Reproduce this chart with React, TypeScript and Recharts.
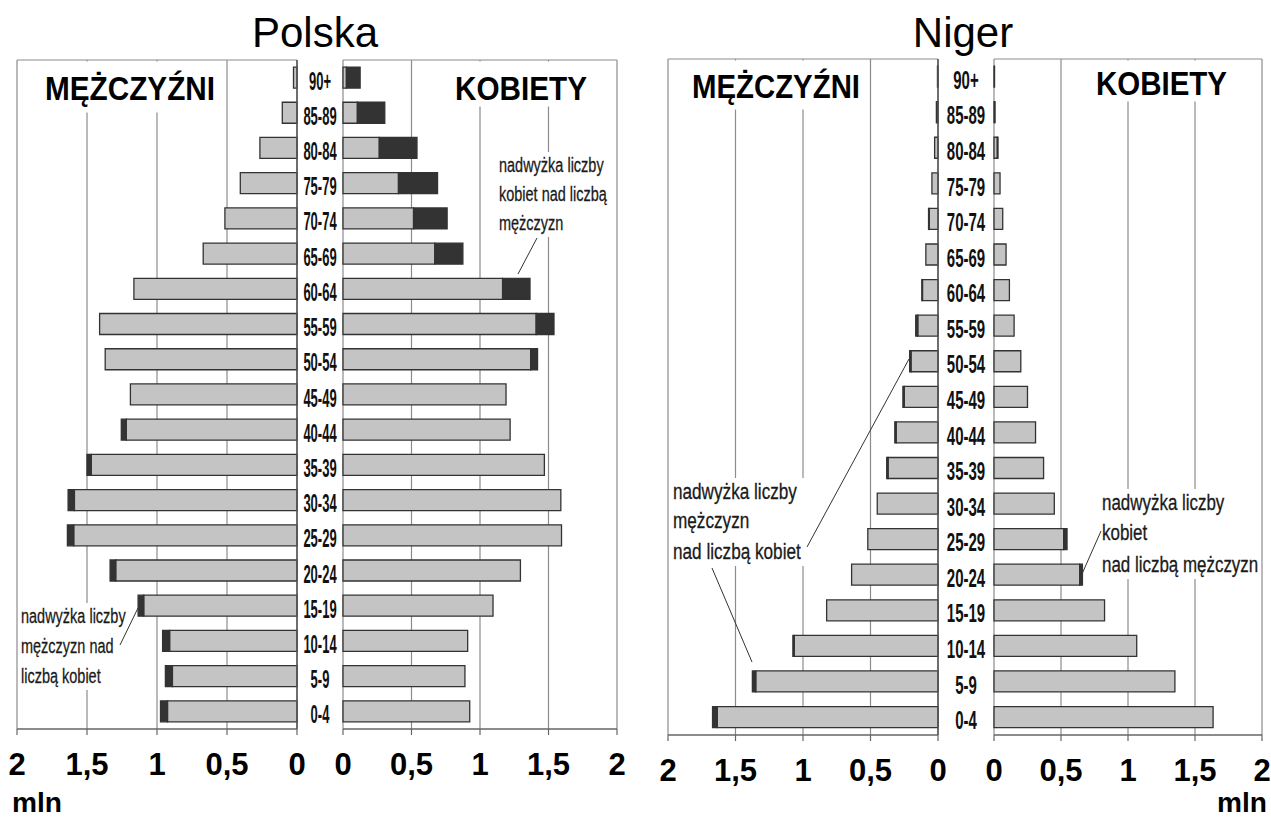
import React from 'react'
import { BarChart, Bar, XAxis, YAxis, CartesianGrid } from 'recharts'

// age groups, youngest first (axis is reversed so 90+ ends on top)
const ages = [
  '0-4', '5-9', '10-14', '15-19', '20-24', '25-29', '30-34', '35-39', '40-44', '45-49',
  '50-54', '55-59', '60-64', '65-69', '70-74', '75-79', '80-84', '85-89', '90+',
]

// population in millions
const polskaMen = [
  0.975, 0.94, 0.96, 1.135, 1.335, 1.64, 1.635, 1.5, 1.255, 1.19,
  1.37, 1.41, 1.165, 0.67, 0.515, 0.405, 0.265, 0.105, 0.025,
]
const polskaWomen = [
  0.925, 0.89, 0.91, 1.095, 1.295, 1.595, 1.59, 1.47, 1.22, 1.19,
  1.42, 1.54, 1.365, 0.875, 0.76, 0.69, 0.54, 0.305, 0.125,
]
const nigerMen = [
  1.67, 1.375, 1.075, 0.825, 0.64, 0.52, 0.45, 0.38, 0.32, 0.26,
  0.21, 0.165, 0.12, 0.09, 0.07, 0.045, 0.025, 0.012, 0.004,
]
const nigerWomen = [
  1.635, 1.35, 1.065, 0.825, 0.66, 0.545, 0.45, 0.37, 0.31, 0.25,
  0.2, 0.15, 0.115, 0.09, 0.065, 0.045, 0.03, 0.008, 0.004,
]

const xTicks = [0, 0.5, 1, 1.5, 2]

const FONT = "'Liberation Sans', Arial, sans-serif"
const LIGHT = '#c4c4c4'
const DARK = '#333333'
const GRID = '#8c8c8c'

type Row = { age: string; base: number; extra: number }

function buildRows(own: number[], other: number[]): Row[] {
  return ages.map((age, i) => ({
    age,
    base: Math.min(own[i], other[i]),
    extra: Math.max(own[i] - other[i], 0),
  }))
}

const XTick = (props: any) => {
  const { x, y, payload } = props
  return (
    <text x={x} y={y + 40} textAnchor="middle" fontFamily={FONT} fontWeight="bold" fontSize={31} fill="#000">
      {String(payload.value).replace('.', ',')}
    </text>
  )
}

const makeAgeTick = (colWidth: number, sx: number) => (props: any) => {
  const { x, y, payload } = props
  return (
    <text
      transform={`translate(${x + colWidth / 2},${y + 12}) scale(${sx},1)`}
      textAnchor="middle"
      fontFamily={FONT}
      fontWeight="bold"
      fontSize={25}
      fill="#111"
    >
      {payload.value}
    </text>
  )
}

interface PanelProps {
  rows: Row[]
  side: 'men' | 'women'
  left: number
  plotLeft: number
  plotRight: number
  top: number
  bottom: number
  colWidth?: number
  labelScale?: number
  padRight?: number
}

function Panel({ rows, side, left, plotLeft, plotRight, top, bottom, colWidth = 0, labelScale = 0.55, padRight = 0 }: PanelProps) {
  const men = side === 'men'
  const marginLeft = plotLeft - left
  const width = plotRight - left + (men ? colWidth : padRight)
  return (
    <div style={{ position: 'absolute', left, top: 0 }}>
      <BarChart
        layout="vertical"
        width={width}
        height={819}
        data={rows}
        margin={{ top, left: marginLeft, right: men ? 0 : padRight, bottom: 0 }}
        barCategoryGap="20%"
      >
        <CartesianGrid stroke={GRID} strokeWidth={1.2} horizontalPoints={[top]} />
        <XAxis
          type="number"
          domain={[0, 2]}
          ticks={xTicks}
          reversed={men}
          height={819 - bottom}
          tickSize={6}
          tickMargin={0}
          interval={0}
          axisLine={{ stroke: '#666', strokeWidth: 1.5 }}
          tickLine={{ stroke: '#666', strokeWidth: 1.2 }}
          tick={XTick}
        />
        {men ? (
          <YAxis
            type="category"
            dataKey="age"
            orientation="right"
            reversed
            width={colWidth}
            tickSize={0}
            tickMargin={0}
            interval={0}
            tickLine={false}
            axisLine={{ stroke: '#555', strokeWidth: 1.5 }}
            tick={makeAgeTick(colWidth, labelScale)}
          />
        ) : (
          <YAxis
            type="category"
            dataKey="age"
            reversed
            width={0}
            tick={false}
            tickLine={false}
            axisLine={{ stroke: '#555', strokeWidth: 1.5 }}
          />
        )}
        <Bar dataKey="base" stackId="s" fill={LIGHT} stroke={DARK} strokeWidth={1.3} isAnimationActive={false} />
        <Bar dataKey="extra" stackId="s" fill={DARK} stroke={DARK} strokeWidth={1.3} isAnimationActive={false} />
      </BarChart>
    </div>
  )
}

type Line = [string, number]

// annotation text, squeezed horizontally like the condensed font in the original
function Note({ x, lines, size, sx, box }: { x: number; lines: Line[]; size: number; sx: number; box: [number, number, number, number] }) {
  return (
    <g>
      <rect x={box[0]} y={box[1]} width={box[2]} height={box[3]} fill="#fff" />
      {lines.map(([t, y]) => (
        <text
          key={t}
          transform={`translate(${x},${y}) scale(${sx},1)`}
          fontFamily={FONT}
          fontSize={size}
          fill="#1a1a1a"
          stroke="#1a1a1a"
          strokeWidth={0.3}
        >
          {t}
        </text>
      ))}
    </g>
  )
}

function Heading({ x, y, w, text }: { x: number; y: number; w: number; text: string }) {
  return (
    <text x={x} y={y} fontFamily={FONT} fontWeight="bold" fontSize={34} fill="#000" textLength={w} lengthAdjust="spacingAndGlyphs">
      {text}
    </text>
  )
}

export default function App() {
  return (
    <div style={{ position: 'absolute', left: 0, top: 0, width: 1271, height: 819, background: '#fff', overflow: 'hidden' }}>
      <Panel rows={buildRows(polskaMen, polskaWomen)} side="men" left={0} plotLeft={17} plotRight={297} top={60} bottom={729} colWidth={46} labelScale={0.52} />
      <Panel rows={buildRows(polskaWomen, polskaMen)} side="women" left={323} plotLeft={343} plotRight={617} top={60} bottom={729} padRight={20} />
      <Panel rows={buildRows(nigerMen, nigerWomen)} side="men" left={630} plotLeft={668} plotRight={938} top={59} bottom={735} colWidth={56} labelScale={0.6} />
      <Panel rows={buildRows(nigerWomen, nigerMen)} side="women" left={974} plotLeft={994} plotRight={1262} top={59} bottom={735} padRight={9} />

      <svg width={1271} height={819} style={{ position: 'absolute', left: 0, top: 0, pointerEvents: 'none' }}>
        <text x={315} y={47} textAnchor="middle" fontFamily={FONT} fontSize={42} fill="#000">Polska</text>
        <text x={963} y={47} textAnchor="middle" fontFamily={FONT} fontSize={42} fill="#000">Niger</text>

        <rect x={38} y={61.5} width={184} height={51} fill="#fff" />
        <rect x={445} y={61.5} width={155} height={45} fill="#fff" />
        <rect x={684} y={60.5} width={182} height={49} fill="#fff" />
        <rect x={1088} y={60.5} width={148} height={41} fill="#fff" />

        <Heading x={45} y={100} w={170} text="MĘŻCZYŹNI" />
        <Heading x={455} y={100} w={132} text="KOBIETY" />
        <Heading x={692} y={98} w={168} text="MĘŻCZYŹNI" />
        <Heading x={1096} y={95} w={131} text="KOBIETY" />

        <Note
          x={499}
          size={21}
          sx={0.69}
          box={[496, 152, 114, 85]}
          lines={[
            ['nadwyżka liczby', 172],
            ['kobiet nad liczbą', 201],
            ['mężczyzn', 230],
          ]}
        />
        <line x1={537} y1={238} x2={518} y2={274} stroke="#333" strokeWidth={1} />

        <Note
          x={21}
          size={21}
          sx={0.69}
          box={[19, 603, 110, 87]}
          lines={[
            ['nadwyżka liczby', 623],
            ['mężczyzn nad', 653],
            ['liczbą kobiet', 683],
          ]}
        />
        <line x1={120} y1={645} x2={138} y2={608} stroke="#333" strokeWidth={1} />

        <Note
          x={673}
          size={22}
          sx={0.78}
          box={[671, 478, 134, 88]}
          lines={[
            ['nadwyżka liczby', 499],
            ['mężczyzn', 528],
            ['nad liczbą kobiet', 559],
          ]}
        />
        <line x1={807} y1={547} x2={909} y2={359} stroke="#333" strokeWidth={1} />
        <line x1={712} y1={568} x2={752} y2={662} stroke="#333" strokeWidth={1} />

        <Note
          x={1102}
          size={22}
          sx={0.77}
          box={[1100, 489, 160, 90]}
          lines={[
            ['nadwyżka liczby', 510],
            ['kobiet', 540],
            ['nad liczbą mężczyzn', 572],
          ]}
        />
        <line x1={1101} y1={531} x2={1082} y2={574} stroke="#333" strokeWidth={1} />

        <text x={12} y={812} fontFamily={FONT} fontWeight="bold" fontSize={28} fill="#000" textLength={50} lengthAdjust="spacingAndGlyphs">mln</text>
        <text x={1217} y={812} fontFamily={FONT} fontWeight="bold" fontSize={28} fill="#000" textLength={50} lengthAdjust="spacingAndGlyphs">mln</text>
      </svg>
    </div>
  )
}
